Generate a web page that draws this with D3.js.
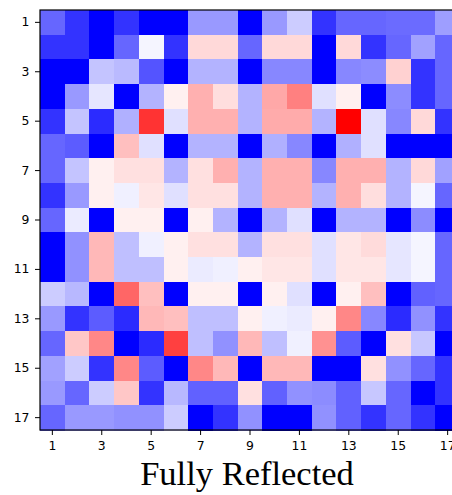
<!DOCTYPE html>
<html>
<head>
<meta charset="utf-8">
<script src="https://cdn.jsdelivr.net/npm/d3@7"></script>
<style>
  body { margin: 0; background: #fff; }
  .tick text { font-family: "DejaVu Sans", sans-serif; font-size: 12.4px; fill: #000; }
  .tick line { stroke: #000; }
</style>
</head>
<body>
<script>
// grid labels and tick labels
var rowsIdx = d3.range(1, 18);
var colsIdx = d3.range(1, 18);
var tickLabels = [1, 3, 5, 7, 9, 11, 13, 15, 17];

// cell values, -1 (blue) .. 0 (white) .. 1 (red), one array per row
var row1  = [-0.6, -0.8, -1, -0.8, -1, -1, -0.4, -0.4, -1, -0.4, -0.2, -0.8, -0.6, -0.6, -0.58, -0.58, -0.38];
var row2  = [-0.8, -0.8, -1, -0.6, -0.04, -0.8, 0.15, 0.15, -0.6, 0.15, 0.15, -1, 0.15, -0.8, -0.6, -0.37, -0.6];
var row3  = [-1, -1, -0.23, -0.27, -0.67, -1, -0.3, -0.3, -1, -0.47, -0.47, -1, -0.47, -0.45, 0.18, -0.8, -0.6];
var row4  = [-1, -0.4, -0.1, -1, -0.3, 0.06, 0.31, 0.13, -0.3, 0.34, 0.5, -0.12, 0.06, -1, -0.45, -0.8, -0.6];
var row5  = [-0.8, -0.23, -0.83, -0.31, 0.8, -0.12, 0.31, 0.31, -0.3, 0.33, 0.33, -0.3, 1.0, -0.12, -0.47, 0.15, -0.8];
var row6  = [-0.6, -0.64, -1, 0.25, -0.12, -1, -0.3, -0.3, -1, -0.31, -0.47, -1, -0.31, -0.12, -1, -1, -1];
var row7  = [-0.6, -0.23, 0.06, 0.12, 0.12, -0.3, 0.12, 0.31, -0.3, 0.31, 0.31, -0.47, 0.31, 0.31, -0.3, 0.15, -0.37];
var row8  = [-0.8, -0.4, 0.06, -0.06, 0.1, -0.12, 0.12, 0.12, -0.3, 0.31, 0.31, -0.3, 0.31, 0.13, -0.3, -0.04, -0.6];
var row9  = [-0.6, -0.08, -1, 0.06, 0.06, -1, 0.06, -0.3, -1, -0.3, -0.12, -1, -0.3, -0.3, -1, -0.45, -1];
var row10 = [-1, -0.43, 0.28, -0.25, -0.06, 0.06, 0.12, 0.12, -0.3, 0.12, 0.12, -0.12, 0.1, 0.14, -0.1, -0.04, -0.6];
var row11 = [-1, -0.43, 0.28, -0.25, -0.25, 0.06, -0.08, -0.06, 0.06, 0.1, 0.1, -0.12, 0.1, 0.1, -0.1, -0.04, -0.6];
var row12 = [-0.2, -0.28, -1, 0.6, 0.25, -1, 0.06, 0.06, -1, 0.06, -0.12, -1, 0.06, 0.25, -1, -0.62, -0.6];
var row13 = [-0.4, -0.8, -0.64, -0.83, 0.28, 0.25, -0.25, -0.25, 0.06, -0.06, -0.08, 0.06, 0.47, -0.47, -0.83, -0.43, -0.8];
var row14 = [-0.6, 0.22, 0.47, -1, -0.83, 0.75, -0.25, -0.43, 0.28, -0.25, -0.06, 0.43, -0.64, -1, 0.12, -0.22, -1];
var row15 = [-0.37, -0.2, -0.8, 0.47, -0.64, -1, 0.47, 0.28, -1, 0.28, 0.28, -1, -1, 0.12, -0.43, -0.6, -0.8];
var row16 = [-0.4, -0.6, -0.2, 0.22, -0.8, -0.28, -0.62, -0.62, 0.12, -0.62, -0.43, -0.45, -0.62, -0.22, -0.6, -1, -0.8];
var row17 = [-0.6, -0.4, -0.4, -0.43, -0.43, -0.2, -1, -0.8, -0.43, -1, -1, -0.43, -0.62, -0.8, -0.6, -0.8, -1];

var rows = [row1, row2, row3, row4, row5, row6, row7, row8, row9, row10, row11, row12, row13, row14, row15, row16, row17];

var title = "Fully Reflected";

var width = 452, height = 495;
var marginLeft = 40, marginTop = 10, size = 420;

var svg = d3.select("body").append("svg")
  .attr("width", width)
  .attr("height", height);

var x = d3.scaleBand().domain(colsIdx).range([marginLeft, marginLeft + size]);
var y = d3.scaleBand().domain(rowsIdx).range([marginTop, marginTop + size]);
var color = d3.scaleLinear().domain([-1, 0, 1]).range(["#0000ff", "#ffffff", "#ff0000"]);

var cells = [];
rows.forEach(function(r, i) {
  r.forEach(function(v, j) {
    cells.push({ row: rowsIdx[i], col: colsIdx[j], v: v });
  });
});

svg.append("g")
  .selectAll("rect")
  .data(cells)
  .enter()
  .append("rect")
  .attr("x", function(d) { return x(d.col); })
  .attr("y", function(d) { return y(d.row); })
  .attr("width", x.bandwidth() + 0.5)
  .attr("height", y.bandwidth() + 0.5)
  .attr("shape-rendering", "crispEdges")
  .style("fill", function(d) { return color(d.v); });

// frame
svg.append("rect")
  .attr("x", marginLeft)
  .attr("y", marginTop)
  .attr("width", size)
  .attr("height", size)
  .attr("fill", "none")
  .attr("stroke", "#000")
  .attr("stroke-width", 1.2);

var xAxis = svg.append("g")
  .attr("transform", "translate(0," + (marginTop + size) + ")")
  .call(d3.axisBottom(x).tickValues(tickLabels).tickSize(5).tickPadding(6.5));
xAxis.select(".domain").remove();

var yAxis = svg.append("g")
  .attr("transform", "translate(" + marginLeft + ",0)")
  .call(d3.axisLeft(y).tickValues(tickLabels).tickSize(5).tickPadding(5.5));
yAxis.select(".domain").remove();

svg.append("text")
  .attr("x", 247)
  .attr("y", 485)
  .attr("text-anchor", "middle")
  .style("font-family", "'Liberation Serif', 'Times New Roman', serif")
  .style("font-size", "34.5px")
  .text(title);
</script>
</body>
</html>
